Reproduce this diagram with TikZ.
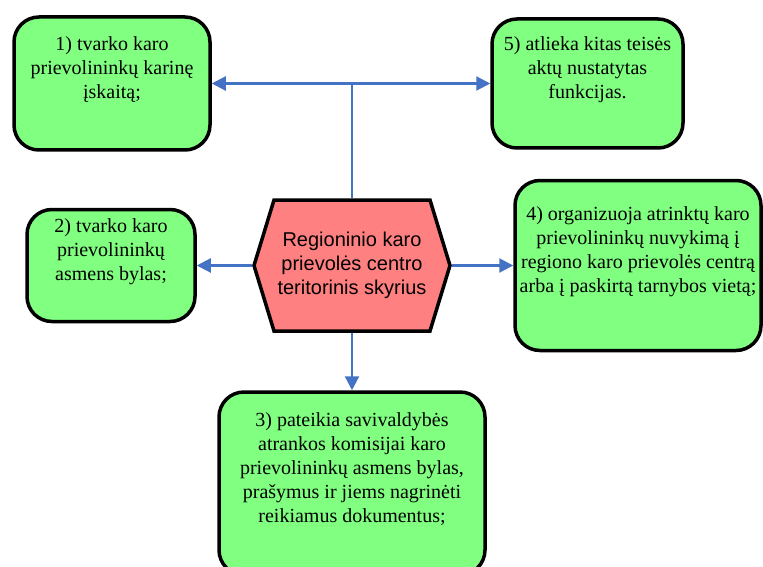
\documentclass[tikz,border=0pt]{standalone}
\usepackage{fontspec}
\setmainfont{Liberation Serif}
\newfontfamily\hexfont{Liberation Sans}
\usetikzlibrary{arrows.meta}
\definecolor{boxgreen}{RGB}{128,255,128}
\definecolor{boxred}{RGB}{255,128,128}
\definecolor{linkblue}{RGB}{68,114,196}
\begin{document}
\begin{tikzpicture}[x=1pt,y=-1pt]
\tikzstyle{task}=[draw, line width=3.5pt, fill=boxgreen, rounded corners=25pt, align=center, inner sep=0pt, font=\fontsize{20}{24}\selectfont]
\tikzstyle{unit}=[inner sep=0pt, outer sep=1.75pt, align=center, font=\hexfont\fontsize{20}{24}\selectfont]
\tikzstyle{link}=[draw=linkblue, line width=2.2pt, -{Triangle[length=14pt,width=14pt]}]
\clip (0,0) rectangle (763,567);

% tasks
\node[task, minimum width=196pt, minimum height=133pt] (T1) at (112,83.5)
    {1) tvarko karo\\ prievolininkų karinę\\ įskaitą;\\ \strut};
\node[task, minimum width=168pt, minimum height=112pt] (T2) at (111,265.5)
    {2) tvarko karo\\ prievolininkų\\ asmens bylas;\\ \strut};
\node[task, minimum width=266pt, minimum height=183pt] (T3) at (352,483.5)
    {3) pateikia savivaldybės\\ atrankos komisijai karo\\ prievolininkų asmens bylas,\\ prašymus ir jiems nagrinėti\\ reikiamus dokumentus;\\ \strut};
\node[task, minimum width=246pt, minimum height=170pt] (T4) at (638,265.5)
    {4) organizuoja atrinktų karo\\ prievolininkų nuvykimą į\\ regiono karo prievolės centrą\\ arba į paskirtą tarnybos vietą;\\ \strut};
\node[task, minimum width=191pt, minimum height=129pt] (T5) at (587.5,83.5)
    {5) atlieka kitas teisės\\ aktų nustatytas\\ funkcijas.\\ \strut};

% centre unit
\filldraw[fill=boxred, draw=black, line width=3.5pt, line join=miter, shift={(352,265.5)}]
    (-78,-65.5) -- (78,-65.5) -- (98,0) -- (78,65.5) -- (-78,65.5) -- (-98,0) -- cycle;
\node[unit, minimum width=196pt, minimum height=131pt] (C) at (352,265.5)
    {Regioninio karo\\ prievolės centro\\ teritorinis skyrius};

\coordinate (J) at (C.north |- T1.east);
\draw[link, -] (C.north) -- (J);
\draw[link] (J) -- (T1.east);
\draw[link] (J) -- (T5.west);
\draw[link] (C.west) -- (T2.east);
\draw[link] (C.east) -- (T4.west);
\draw[link] (C.south) -- (T3.north);
\end{tikzpicture}
\end{document}
